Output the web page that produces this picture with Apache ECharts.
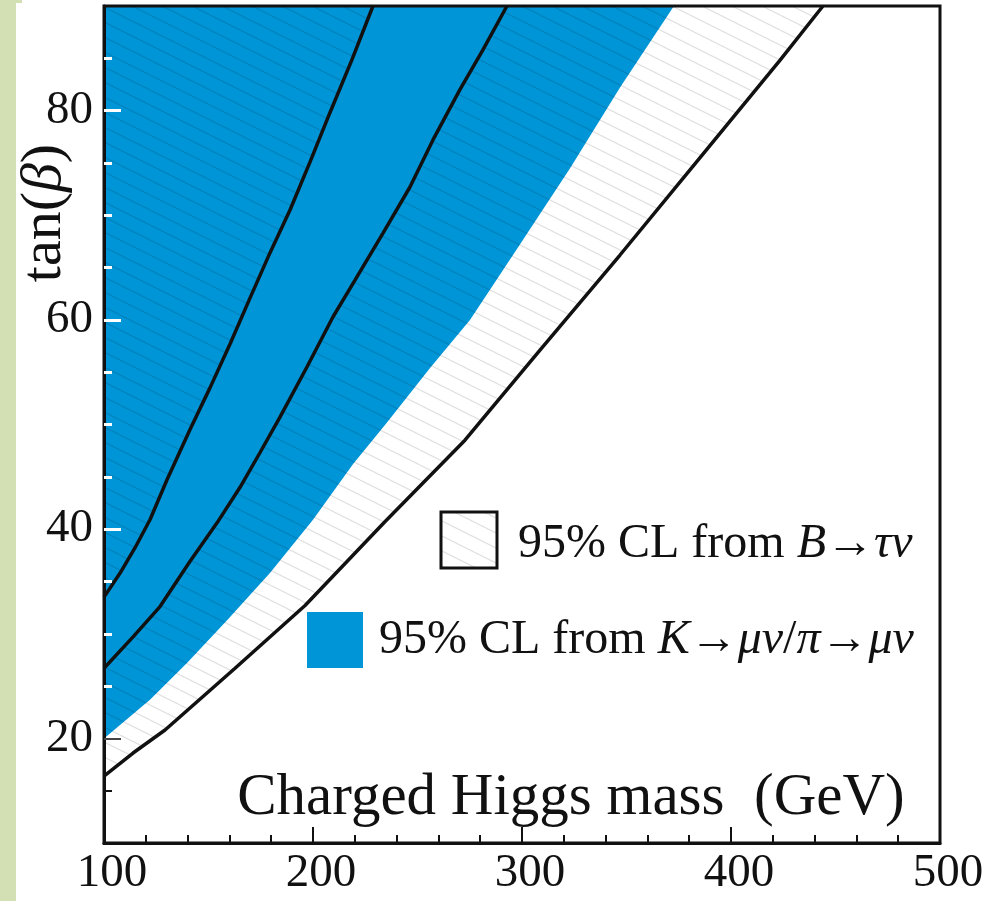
<!DOCTYPE html>
<html>
<head>
<meta charset="utf-8">
<script src="https://cdn.jsdelivr.net/npm/echarts@6/dist/echarts.min.js"></script>
<style>
  html, body { margin: 0; padding: 0; background: #fff; }
  #main { width: 994px; height: 901px; }
</style>
</head>
<body>
<div id="main"></div>
<script>
// curves: [mass (GeV), tan(beta)]
var fineTuneUpper = [[100,33.5],[107.7,35.8],[114.8,38.2],[122.0,40.9],[130.1,44.7],[141.1,49.5],[150.7,53.5],[160.3,57.7],[169.9,62.1],[179.4,66.4],[189.0,70.5],[198.6,75.1],[208.1,79.8],[218.7,84.9],[228.7,90]];
var fineTuneLower = [[100,26.7],[113.9,29.7],[126.8,32.6],[141.1,36.9],[154.1,40.6],[165.1,44.0],[174.6,47.3],[184.2,50.7],[197.1,55.5],[209.6,60.3],[220.1,63.8],[233.5,68.3],[246.4,72.7],[257.4,77.2],[270.3,82.0],[281.3,85.8],[292.8,90]];
var kmunuEdge = [[100,20.0],[122.0,23.7],[139.7,27.2],[158.9,31.3],[179.4,35.8],[200.0,40.9],[219.1,46.2],[235.4,50.2],[256.0,55.4],[275.1,60.0],[299.0,67.2],[323.0,74.5],[346.9,82.2],[372.7,90]];
var btaunuEdge = [[100,16.4],[113.9,18.6],[129.2,20.8],[162.7,26.7],[196.2,32.7],[234.4,40.7],[272.7,48.5],[308.6,57.1],[346.9,66.2],[385.2,75.5],[423.4,84.8],[444.0,90]];

var yLabels = [20, 40, 60, 80];
var yMajorOnBlue = [40, 60, 80];
var yMinorOnBlue = [25, 30, 35, 45, 50, 55, 65, 70, 75, 85];
var yMajorOnWhite = [20];
var yMinorOnWhite = [15];

var blue = '#0095d7';
var ink = '#111';
var serif = '"Liberation Serif", "DejaVu Serif", serif';

// diagonal hatch tile
var tile = document.createElement('canvas');
tile.width = 30; tile.height = 15;
var ctx = tile.getContext('2d');
ctx.strokeStyle = 'rgba(0,0,0,0.12)';
ctx.lineWidth = 1.2;
for (var k = -1; k <= 1; k++) {
  ctx.beginPath();
  ctx.moveTo(0, k * 15);
  ctx.lineTo(30, k * 15 + 15);
  ctx.stroke();
}
var hatch = { image: tile, repeat: 'repeat' };

function tickAxis(vals, len, color, width) {
  return {
    type: 'value', min: 10, max: 90, position: 'left', z: 10,
    axisLine: { show: false },
    axisLabel: { show: false },
    splitLine: { show: false },
    axisTick: { show: true, inside: true, length: len, customValues: vals,
      lineStyle: { color: color, width: width } }
  };
}

function areaSeries(data, fill) {
  return {
    type: 'line', data: data, symbol: 'none', silent: true,
    lineStyle: { width: 0 },
    areaStyle: { color: fill, opacity: 1, origin: 'end' }
  };
}

function curveSeries(data) {
  return {
    type: 'line', data: data, symbol: 'none', silent: true, z: 5,
    lineStyle: { color: ink, width: 3.5 }
  };
}

var myChart = echarts.init(document.getElementById('main'));
var option = {
  backgroundColor: '#fff',
  animation: false,
  grid: { left: 104, right: 54, top: 6, bottom: 58, show: true, borderColor: ink, borderWidth: 3, z: 10 },
  xAxis: {
    type: 'value', min: 100, max: 500, interval: 100, z: 10,
    axisLine: { lineStyle: { color: ink, width: 3 } },
    axisTick: { inside: true, length: 16, lineStyle: { color: ink, width: 2 } },
    minorTick: { show: true, splitNumber: 5, length: 8, lineStyle: { color: ink, width: 2 } },
    splitLine: { show: false },
    axisLabel: { fontSize: 47, fontFamily: serif, color: ink, margin: 7, padding: [0, 0, 0, 16] }
  },
  yAxis: [
    {
      type: 'value', min: 10, max: 90, position: 'left', z: 10,
      axisLine: { show: true, lineStyle: { color: ink, width: 3 } },
      axisTick: { show: false },
      splitLine: { show: false },
      axisLabel: { customValues: yLabels, fontSize: 47, fontFamily: serif, color: ink, margin: 11 }
    },
    tickAxis(yMajorOnBlue, 17, '#fff', 3),
    tickAxis(yMinorOnBlue, 8, '#fff', 3),
    tickAxis(yMajorOnWhite, 17, '#444', 2),
    tickAxis(yMinorOnWhite, 8, ink, 2)
  ],
  series: [
    areaSeries(kmunuEdge, blue),
    areaSeries(btaunuEdge, hatch),
    areaSeries(fineTuneLower, blue),
    areaSeries(fineTuneUpper, hatch),
    curveSeries(fineTuneUpper),
    curveSeries(fineTuneLower),
    curveSeries(btaunuEdge)
  ],
  graphic: [
    { type: 'rect', shape: { x: 0, y: 0, width: 16, height: 901 }, style: { fill: '#d3e0b3' } },
    { type: 'rect', shape: { x: 0, y: 0, width: 22, height: 3 }, style: { fill: '#d3e0b3' } },
    { type: 'text', x: 45, y: 213, rotation: Math.PI / 2, z: 20,
      style: { text: 'tan({b|β})', fontSize: 58, fontFamily: serif, fill: ink,
        align: 'center', verticalAlign: 'middle', textAlign: 'center', textVerticalAlign: 'middle',
        rich: { b: { fontSize: 58, fontFamily: serif, fontStyle: 'italic', fill: ink } } } },
    { type: 'text', x: 571, y: 798, z: 20,
      style: { text: 'Charged Higgs mass  (GeV)', fontSize: 59, fontFamily: serif, fill: ink,
        align: 'center', verticalAlign: 'middle', textAlign: 'center', textVerticalAlign: 'middle' } },
    { type: 'rect', z: 20, shape: { x: 441, y: 512, width: 56, height: 56 },
      style: { fill: hatch, stroke: ink, lineWidth: 3 } },
    { type: 'text', x: 518, y: 544, z: 20,
      style: { text: '95% CL from {i|B}→{i|τν}', fontSize: 48, fontFamily: serif, fill: ink,
        align: 'left', verticalAlign: 'middle', textAlign: 'left', textVerticalAlign: 'middle',
        rich: { i: { fontSize: 48, fontFamily: serif, fontStyle: 'italic', fill: ink } } } },
    { type: 'rect', z: 20, shape: { x: 307, y: 612, width: 56, height: 56 },
      style: { fill: blue } },
    { type: 'text', x: 379, y: 640, z: 20,
      style: { text: '95% CL from {i|K}→{i|μν}/{i|π}→{i|μν}', fontSize: 48, fontFamily: serif, fill: ink,
        align: 'left', verticalAlign: 'middle', textAlign: 'left', textVerticalAlign: 'middle',
        rich: { i: { fontSize: 48, fontFamily: serif, fontStyle: 'italic', fill: ink } } } }
  ]
};
myChart.setOption(option);
</script>
</body>
</html>
